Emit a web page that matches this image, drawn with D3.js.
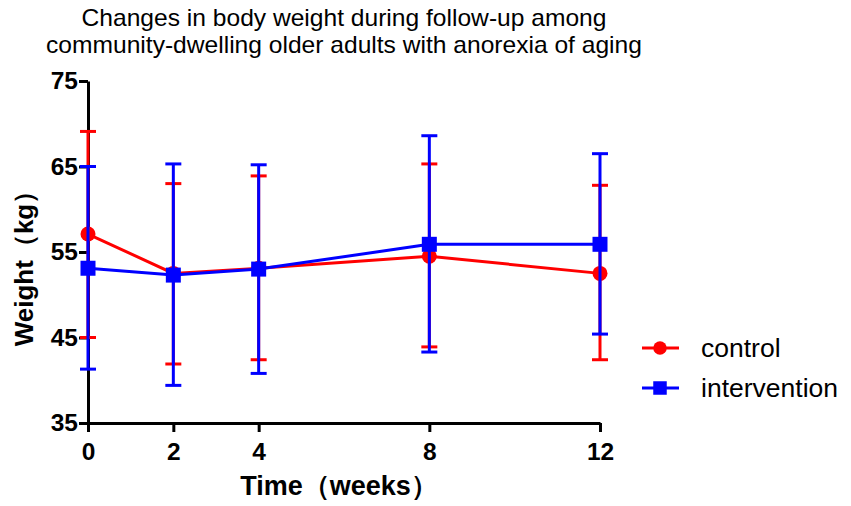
<!DOCTYPE html>
<html>
<head>
<meta charset="utf-8">
<script src="https://cdn.jsdelivr.net/npm/d3@7"></script>
<style>
	body { margin: 0; background: #fff; }
	svg { display: block; font-family: "Liberation Sans", Arial, sans-serif; }
</style>
</head>
<body>
<div id="chart"></div>
<script>
// Weeks of follow-up.
var weeks = [0, 2, 4, 8, 12];
// Control group: mean and error bar ends (kg).
var controlMean = [57.1, 52.5, 53.1, 54.5, 52.5];
var controlUpper = [69.1, 63.0, 63.9, 65.3, 62.8];
var controlLower = [45.0, 41.9, 42.4, 43.9, 42.4];
// Intervention group.
var interventionMean = [53.1, 52.3, 53.0, 55.9, 55.9];
var interventionUpper = [65.0, 65.3, 65.2, 68.6, 66.5];
var interventionLower = [41.3, 39.4, 40.8, 43.3, 45.4];
var yTicks = [35, 45, 55, 65, 75];

var width = 851,
	height = 506,
	margin = { top: 81, right: 251, bottom: 83, left: 88 };

var series = [
	{ name: "control", color: "#ff0000", shape: "circle", mean: controlMean, upper: controlUpper, lower: controlLower },
	{ name: "intervention", color: "#0000ff", shape: "square", mean: interventionMean, upper: interventionUpper, lower: interventionLower }
];

var svg = d3.select("#chart").append("svg")
	.attr("width", width)
	.attr("height", height);

var x = d3.scaleLinear()
	.domain([0, 12])
	.range([margin.left, width - margin.right]);

var y = d3.scaleLinear()
	.domain([35, 75])
	.range([height - margin.bottom, margin.top]);

// Title (the source picture is slightly stretched sideways)
["Changes in body weight during follow-up among",
	"community-dwelling older adults with anorexia of aging"].forEach(function (t, i) {
	svg.append("text")
		.attr("transform", "translate(344," + (26 + i * 27) + ") scale(1.07,1)")
		.attr("text-anchor", "middle")
		.style("font-size", "23px")
		.text(t);
});

// Axes
var xAxis = svg.append("g")
	.attr("transform", "translate(0," + y(35) + ")")
	.call(d3.axisBottom(x).tickValues(weeks).tickSize(9).tickSizeOuter(0).tickPadding(11));

var yAxis = svg.append("g")
	.attr("transform", "translate(" + x(0) + ",0)")
	.call(d3.axisLeft(y).tickValues(yTicks).tickSize(9).tickSizeOuter(0).tickPadding(1));

[xAxis, yAxis].forEach(function (a) {
	a.select(".domain").attr("stroke", "#000").attr("stroke-width", 3);
	a.selectAll(".tick line").attr("stroke", "#000").attr("stroke-width", 3);
	a.selectAll(".tick text")
		.attr("fill", "#000")
		.style("font-size", "24.5px")
		.style("font-weight", "bold")
		.style("font-family", "'Liberation Sans', Arial, sans-serif");
});

// Axis labels
svg.append("text")
	.attr("x", 339)
	.attr("y", 495)
	.attr("text-anchor", "middle")
	.style("font-size", "27px")
	.style("font-weight", "bold")
	.text("Time（weeks）");

svg.append("text")
	.attr("transform", "translate(33,262) rotate(-90)")
	.attr("text-anchor", "middle")
	.style("font-size", "26px")
	.style("font-weight", "bold")
	.text("Weight（kg）");

var line = d3.line()
	.x(function (d) { return x(d[0]); })
	.y(function (d) { return y(d[1]); });

var capHalf = 8;

series.forEach(function (s) {
	var g = svg.append("g").attr("class", "series-" + s.name);

	// Error bars
	weeks.forEach(function (w, i) {
		g.append("line")
			.attr("x1", x(w)).attr("x2", x(w))
			.attr("y1", y(s.lower[i])).attr("y2", y(s.upper[i]))
			.attr("stroke", s.color).attr("stroke-width", 3);
		[s.lower[i], s.upper[i]].forEach(function (v) {
			g.append("line")
				.attr("x1", x(w) - capHalf).attr("x2", x(w) + capHalf)
				.attr("y1", y(v)).attr("y2", y(v))
				.attr("stroke", s.color).attr("stroke-width", 3);
		});
	});

	// Mean line
	g.append("path")
		.datum(weeks.map(function (w, i) { return [w, s.mean[i]]; }))
		.attr("d", line)
		.attr("fill", "none")
		.attr("stroke", s.color)
		.attr("stroke-width", 3);

	// Markers
	weeks.forEach(function (w, i) {
		drawMarker(g, s, x(w), y(s.mean[i]), 1);
	});
});

function drawMarker(g, s, cx, cy, k) {
	if (s.shape == "circle") {
		g.append("circle")
			.attr("cx", cx).attr("cy", cy)
			.attr("r", 7.5 * k)
			.attr("fill", s.color);
	} else {
		var h = 7.5 * k;
		g.append("rect")
			.attr("x", cx - h).attr("y", cy - h)
			.attr("width", 2 * h).attr("height", 2 * h)
			.attr("fill", s.color);
	}
}

// Legend
var legend = svg.append("g");
series.forEach(function (s, i) {
	var ly = 348 + i * 40;
	legend.append("line")
		.attr("x1", 642).attr("x2", 679)
		.attr("y1", ly).attr("y2", ly)
		.attr("stroke", s.color).attr("stroke-width", 3);
	drawMarker(legend, s, 660, ly, 0.9);
	legend.append("text")
		.attr("x", 701)
		.attr("y", ly + 9)
		.style("font-size", "26.5px")
		.text(s.name);
});
</script>
</body>
</html>
